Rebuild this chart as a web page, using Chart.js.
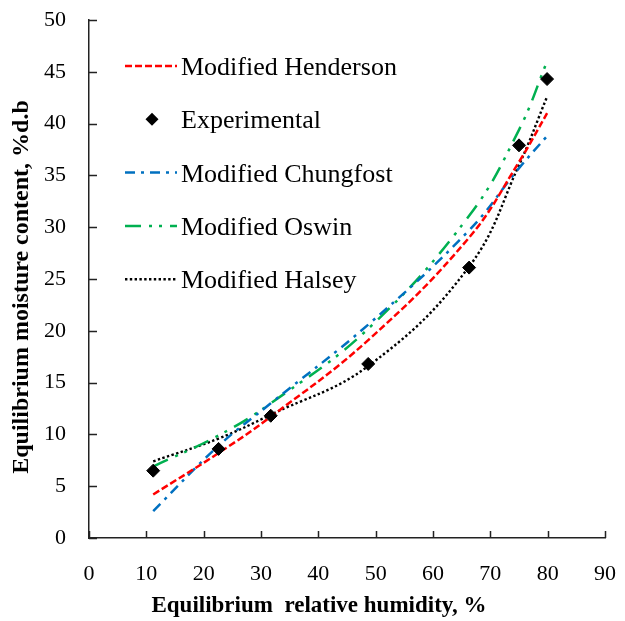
<!DOCTYPE html>
<html>
<head>
<meta charset="utf-8">
<script src="https://cdn.jsdelivr.net/npm/chart.js@4.4.1/dist/chart.umd.min.js"></script>
<style>
  body { margin: 0; background: #fff; }
  #wrap { width: 625px; height: 621px; }
</style>
</head>
<body>
<div id="wrap"><canvas id="emcChart"></canvas></div>
<script>
// relative humidity (%) at which samples were equilibrated
var rh = [11.2, 22.6, 31.7, 48.7, 66.3, 75.0, 79.9];
// measured and model-predicted moisture content (%d.b)
var experimental = [6.5, 8.6, 11.8, 16.8, 26.1, 37.9, 44.3];
var henderson = [4.2, 8.2, 11.7, 19.1, 29.0, 36.3, 41.0];
var chungfost = [2.6, 8.9, 13.0, 20.6, 29.7, 35.7, 38.8];
var oswin = [6.9, 9.9, 13.0, 20.2, 31.1, 39.4, 46.0];
var halsey = [7.4, 9.6, 11.9, 16.6, 26.2, 36.0, 42.6];

var xTicks = [0, 10, 20, 30, 40, 50, 60, 70, 80, 90];
var yTicks = [0, 5, 10, 15, 20, 25, 30, 35, 40, 45, 50];

function pts(ys) {
  return rh.map(function(x, i) { return { x: x, y: ys[i] }; });
}

var serif = 'Liberation Serif, Times New Roman, serif';

var legendItems = [
  { label: 'Modified Henderson', color: '#ff0000', dash: [7, 3], width: 2.5 },
  { label: 'Experimental', marker: true },
  { label: 'Modified Chungfost', color: '#0070c0', dash: [10, 6, 3, 6], width: 2.5 },
  { label: 'Modified Oswin', color: '#00b050', dash: [16, 8, 3, 7, 3, 8], width: 2.5 },
  { label: 'Modified Halsey', color: '#000000', dash: [2.4, 2.4], width: 2.4 }
];

// inner tick marks, axis titles and the in-plot legend
var extras = {
  id: 'extras',
  afterDraw: function(chart) {
    var ctx = chart.ctx;
    var xs = chart.scales.x, ys = chart.scales.y;
    ctx.save();
    ctx.strokeStyle = '#222';
    ctx.lineWidth = 1.5;
    ctx.beginPath();
    xs.ticks.forEach(function(t) {
      var px = Math.round(xs.getPixelForValue(t.value)) + 0.5;
      ctx.moveTo(px, ys.bottom);
      ctx.lineTo(px, ys.bottom - 7);
    });
    ys.ticks.forEach(function(t) {
      var py = Math.round(ys.getPixelForValue(t.value)) + 0.5;
      ctx.moveTo(xs.left, py);
      ctx.lineTo(xs.left + 8, py);
    });
    ctx.stroke();

    ctx.fillStyle = '#000';
    ctx.font = 'bold 23px ' + serif;
    ctx.textAlign = 'center';
    ctx.textBaseline = 'middle';
    ctx.fillText('Equilibrium  relative humidity, %', 319, 606);

    ctx.save();
    ctx.translate(22, 287);
    ctx.rotate(-Math.PI / 2);
    ctx.font = 'bold 24px ' + serif;
    ctx.fillText('Equilibrium moisture content, %d.b', 0, 0);
    ctx.restore();

    ctx.font = '26px ' + serif;
    ctx.textAlign = 'left';
    ctx.textBaseline = 'alphabetic';
    legendItems.forEach(function(it, i) {
      var y = 66 + i * 53.3;
      if (it.marker) {
        ctx.beginPath();
        ctx.moveTo(152, y - 6.5);
        ctx.lineTo(158.5, y);
        ctx.lineTo(152, y + 6.5);
        ctx.lineTo(145.5, y);
        ctx.closePath();
        ctx.fill();
      } else {
        ctx.save();
        ctx.strokeStyle = it.color;
        ctx.lineWidth = it.width;
        ctx.setLineDash(it.dash);
        ctx.beginPath();
        ctx.moveTo(125, y);
        ctx.lineTo(177, y);
        ctx.stroke();
        ctx.restore();
      }
      ctx.fillStyle = '#000';
      ctx.fillText(it.label, 181, y + 9);
    });
    ctx.restore();
  }
};

function curve(label, ys, color, dash, width) {
  return {
    label: label,
    data: pts(ys),
    showLine: true,
    borderColor: color,
    backgroundColor: color,
    borderWidth: width,
    borderDash: dash,
    pointRadius: 0,
    tension: 0.4,
    order: 1
  };
}

var ctx = document.getElementById('emcChart').getContext('2d');
var emcChart = new Chart(ctx, {
  type: 'scatter',
  data: {
    datasets: [
      curve('Modified Henderson', henderson, '#ff0000', [7, 3], 2.5),
      {
        label: 'Experimental',
        data: pts(experimental),
        pointStyle: 'rectRot',
        pointRadius: 6.5,
        backgroundColor: '#000',
        borderColor: '#000',
        borderWidth: 1,
        order: 0
      },
      curve('Modified Chungfost', chungfost, '#0070c0', [10, 6, 3, 6], 2.5),
      curve('Modified Oswin', oswin, '#00b050', [16, 8, 3, 7, 3, 8], 2.5),
      curve('Modified Halsey', halsey, '#000000', [2.4, 2.4], 2.4)
    ]
  },
  options: {
    responsive: true,
    maintainAspectRatio: false,
    animation: false,
    layout: { padding: { top: 20, right: 20, left: 0, bottom: 0 } },
    scales: {
      x: {
        type: 'linear',
        min: 0,
        max: 90,
        afterBuildTicks: function(s) { s.ticks = xTicks.map(function(v) { return { value: v }; }); },
        afterFit: function(s) { s.height = 83; s.paddingLeft = 0; s.paddingRight = 0; },
        grid: { display: true, drawOnChartArea: false, drawTicks: false },
        border: { color: '#222', width: 1.5 },
        ticks: { padding: 23, color: '#000', font: { family: serif, size: 22 }, maxRotation: 0 }
      },
      y: {
        type: 'linear',
        min: 0,
        max: 50,
        afterBuildTicks: function(s) { s.ticks = yTicks.map(function(v) { return { value: v }; }); },
        afterFit: function(s) { s.width = 89; s.paddingTop = 0; s.paddingBottom = 0; },
        grid: { display: true, drawOnChartArea: false, drawTicks: false },
        border: { color: '#222', width: 1.5 },
        ticks: { padding: 23, color: '#000', font: { family: serif, size: 22 } }
      }
    },
    plugins: {
      legend: { display: false },
      tooltip: { enabled: false }
    }
  },
  plugins: [extras]
});
</script>
</body>
</html>
